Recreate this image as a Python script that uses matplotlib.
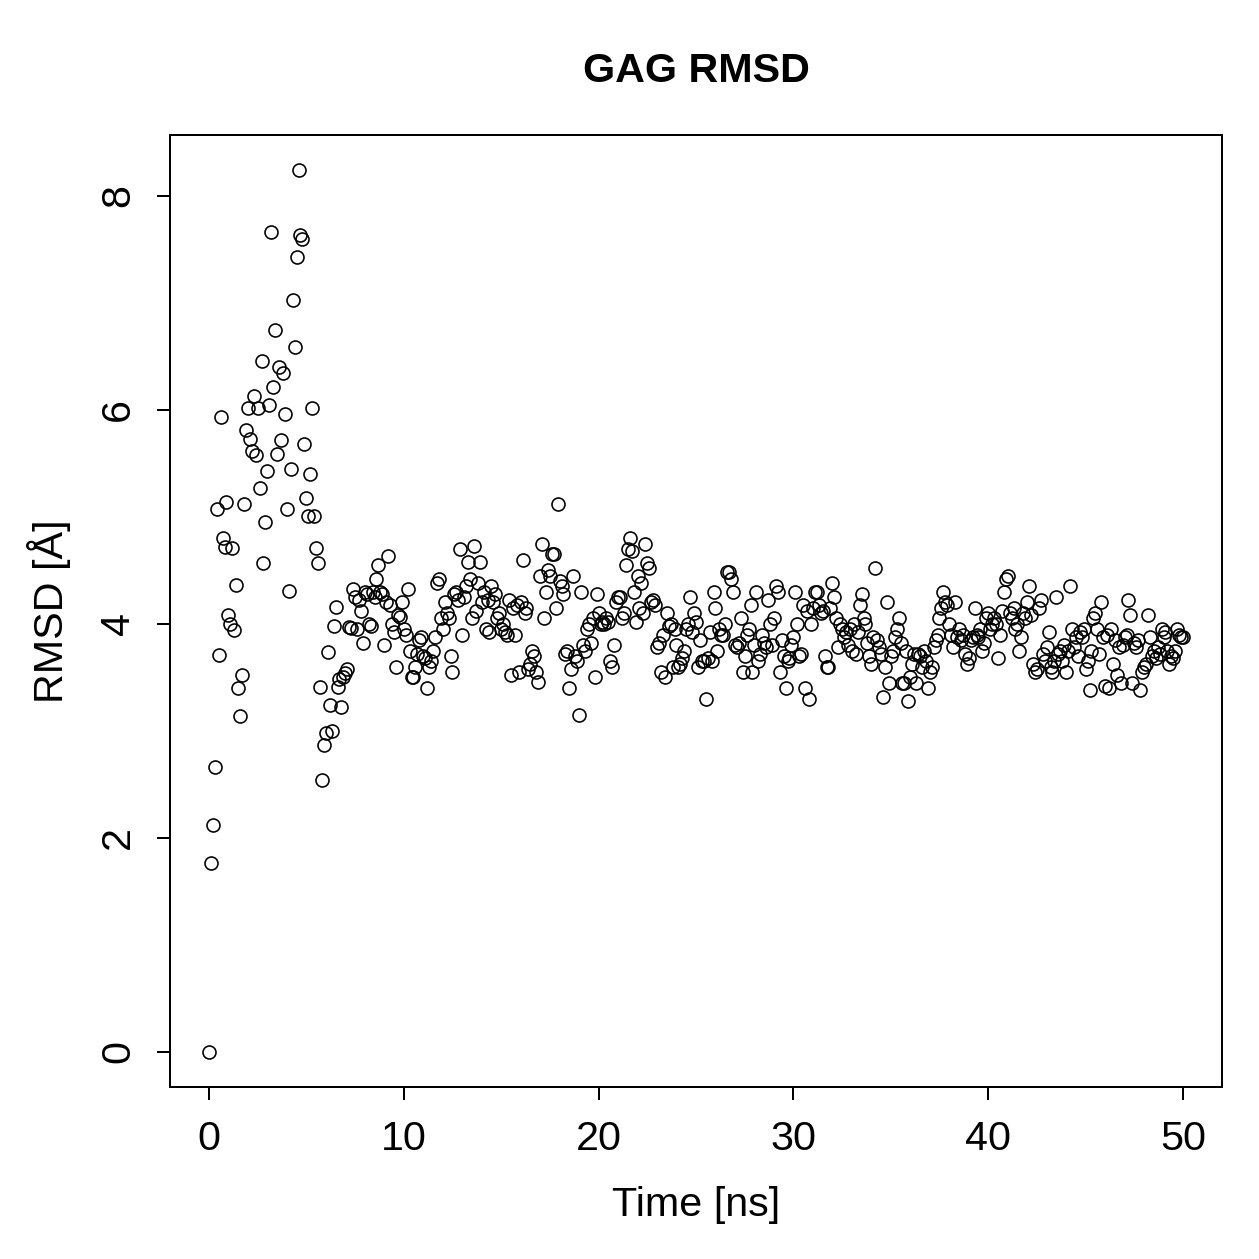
import numpy as np
import matplotlib
matplotlib.use("Agg")
from matplotlib import pyplot as plt
from matplotlib import rcParams

rcParams.update({
    "font.family": ["Liberation Sans", "DejaVu Sans"],
    "font.size": 16.5,
})

# RMSD values, one sample every 0.1 ns
rmsd_early = [0.0, 1.76, 2.12, 2.66, 5.07, 3.71, 5.93, 4.80, 4.72, 5.14,
              4.08, 4.00, 4.71, 3.94, 4.36, 3.40, 3.14, 3.52, 5.12, 5.81,
              6.02, 5.73, 5.62, 6.13, 5.58, 6.02, 5.27, 6.46, 4.57, 4.95,
              5.43, 6.05, 7.66, 6.21, 6.75, 5.59, 6.40, 5.72, 6.34, 5.96,
              5.07, 4.31, 5.45, 7.03, 6.59, 7.43, 8.24, 7.63, 7.60, 5.68,
              5.18, 5.01, 5.40, 6.02, 5.01, 4.71, 4.57, 3.41, 2.54, 2.87,
              2.98, 3.74, 3.24, 3.00, 3.98, 4.16, 3.41, 3.48, 3.22, 3.50,
              3.54, 3.58, 3.97, 3.96, 4.33, 4.25, 3.95, 4.22, 4.12, 3.82]

rmsd_late = [
    4.30, 4.28, 4.00, 3.98, 4.30, 4.25, 4.42, 4.55, 4.30, 4.28,   # 8 ns
    3.80, 4.20, 4.63, 4.18, 4.00, 3.92, 3.60, 4.08, 4.06, 4.20,
    3.95, 3.90, 4.33, 3.75, 3.50, 3.50, 3.60, 3.72, 3.85, 3.88,   # 10 ns
    3.70, 3.68, 3.40, 3.60, 3.65, 3.75, 3.88, 4.38, 4.42, 4.05,
    3.95, 4.20, 4.10, 4.05, 3.70, 3.55, 4.28, 4.30, 4.22, 4.70,
    3.90, 4.25, 4.35, 4.58, 4.42, 4.05, 4.73, 4.12, 4.38, 4.58,
    4.20, 4.30, 3.95, 4.22, 3.92, 4.35, 4.20, 4.28, 4.05, 4.10,
    3.95, 4.00, 3.92, 3.90, 4.22, 3.52, 4.15, 3.90, 4.18, 3.55,   # 15 ns
    4.20, 4.60, 4.10, 4.15, 3.58, 3.62, 3.75, 3.70, 3.55, 3.46,
    4.45, 4.75, 4.05, 4.30, 4.50, 4.45, 4.65, 4.65, 4.15, 5.12,
    4.40, 4.35, 4.28, 3.72, 3.75, 3.40, 3.58, 4.45, 3.70, 3.65,
    3.15, 4.30, 3.80, 3.75, 3.95, 4.00, 3.82, 4.05, 3.50, 4.28,
    4.10, 4.00, 4.02, 4.00, 4.05, 4.02, 3.65, 3.60, 3.80, 4.20,   # 20 ns
    4.25, 4.25, 4.05, 4.10, 4.55, 4.70, 4.80, 4.68, 4.30, 4.02,
    4.45, 4.15, 4.38, 4.10, 4.75, 4.57, 4.52, 4.20, 4.22, 4.18,
    3.78, 3.82, 3.55, 3.90, 3.50, 4.10, 3.98, 4.00, 3.60, 3.95,
    3.80, 3.60, 3.62, 3.68, 3.75, 3.95, 4.00, 4.25, 3.92, 4.10,
    4.02, 3.60, 3.85, 3.65, 3.65, 3.30, 3.68, 3.92, 3.65, 4.30,   # 25 ns
    4.15, 3.75, 3.95, 3.90, 3.90, 4.00, 4.48, 4.48, 4.42, 4.30,
    3.80, 3.78, 3.82, 4.05, 3.55, 3.70, 3.90, 3.95, 4.18, 3.55,
    3.80, 4.30, 3.65, 3.72, 3.90, 3.82, 3.78, 4.22, 4.00, 3.80,
    4.05, 4.35, 4.30, 3.55, 3.85, 3.70, 3.40, 3.65, 3.68, 3.80,
    3.88, 4.30, 4.00, 3.70, 3.72, 4.18, 3.40, 4.12, 3.30, 4.00,   # 30 ns
    4.15, 4.30, 4.30, 4.18, 4.10, 4.12, 3.70, 3.60, 3.60, 4.15,
    4.38, 4.25, 4.05, 3.78, 4.00, 3.95, 3.88, 3.92, 3.80, 3.95,
    3.75, 4.00, 3.72, 3.92, 4.18, 4.28, 4.05, 4.00, 3.82, 3.70,
    3.62, 3.88, 4.52, 3.85, 3.78, 3.72, 3.32, 3.60, 4.20, 3.45,
    3.70, 3.75, 3.88, 3.95, 4.05, 3.82, 3.45, 3.45, 3.75, 3.28,   # 35 ns
    3.50, 3.62, 3.72, 3.45, 3.72, 3.70, 3.60, 3.75, 3.65, 3.40,
    3.55, 3.60, 3.78, 3.85, 3.90, 4.05, 4.15, 4.30, 4.20, 4.18,
    4.00, 3.90, 3.78, 4.20, 3.88, 3.95, 3.85, 3.90, 3.72, 3.62,
    3.68, 3.85, 3.88, 4.15, 3.90, 3.88, 3.95, 3.75, 3.82, 4.05,
    4.10, 3.95, 4.00, 4.05, 4.00, 3.68, 3.90, 4.12, 4.30, 4.42,   # 40 ns
    4.45, 4.10, 4.05, 4.15, 3.95, 4.00, 3.75, 3.88, 4.10, 4.05,
    4.20, 4.35, 4.08, 3.62, 3.55, 3.58, 4.15, 4.22, 3.72, 3.65,
    3.78, 3.92, 3.60, 3.55, 3.65, 4.25, 3.72, 3.75, 3.65, 3.80,
    3.55, 3.75, 4.35, 3.95, 3.78, 3.88, 3.70, 3.92, 3.88, 3.95,
    3.58, 3.65, 3.38, 3.75, 4.05, 4.10, 3.95, 3.72, 4.20, 3.88,   # 45 ns
    3.42, 3.90, 3.40, 3.95, 3.62, 3.85, 3.52, 3.78, 3.45, 3.80,
    3.88, 3.90, 4.22, 4.08, 3.45, 3.82, 3.78, 3.85, 3.38, 3.55,
    3.60, 3.62, 4.08, 3.88, 3.70, 3.75, 3.68, 3.78, 3.72, 3.95,
    3.88, 3.92, 3.75, 3.62, 3.70, 3.68, 3.75, 3.95, 3.90, 3.88,
    3.88,                                                          # 50 ns
]

rmsd = np.array(rmsd_early + rmsd_late)
time_ns = np.arange(len(rmsd)) * 0.1

fig = plt.figure(figsize=(1259 / 180, 1259 / 180), dpi=180)
ax = fig.add_axes([0.135, 0.1366, 0.8356, 0.7562])

ax.plot(time_ns, rmsd, linestyle='none', marker='o', markersize=5.2,
        markerfacecolor='none', markeredgecolor='black', markeredgewidth=0.65)

# R style 4% padding
xpad = (time_ns.max() - time_ns.min()) * 0.04
ypad = (rmsd.max() - rmsd.min()) * 0.04
ax.set_xlim(time_ns.min() - xpad, time_ns.max() + xpad)
ax.set_ylim(rmsd.min() - ypad, rmsd.max() + ypad)

ax.set_xticks([0, 10, 20, 30, 40, 50])
ax.set_yticks([0, 2, 4, 6, 8])
ax.tick_params(axis='both', direction='out', length=5.2, width=0.8, pad=8, labelsize=16.5)
for lab in ax.get_yticklabels():
    lab.set_rotation(90)
    lab.set_va('center')
for s in ax.spines.values():
    s.set_linewidth(0.8)

ax.set_xlabel('Time [ns]', fontsize=16.5, labelpad=11)
ax.set_ylabel('RMSD [Å]', fontsize=16.5, labelpad=11)
ax.set_title('GAG RMSD', fontsize=16.5, fontweight='bold', pad=21)

plt.savefig("out.png", dpi=180)
